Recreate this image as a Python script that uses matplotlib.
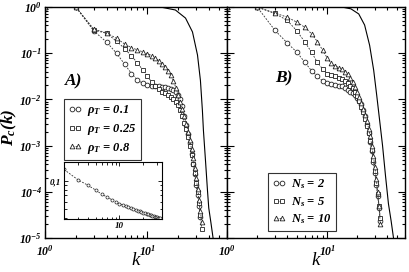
import numpy as np
import matplotlib
matplotlib.use("Agg")
import matplotlib.pyplot as plt
from matplotlib.ticker import LogLocator, FixedLocator, FixedFormatter, NullFormatter

plt.rcParams['font.family'] = 'Liberation Serif'
plt.rcParams['font.style'] = 'italic'
plt.rcParams['font.weight'] = 'bold'
plt.rcParams['mathtext.fontset'] = 'custom'
plt.rcParams['mathtext.rm'] = 'Liberation Serif:bold:italic'
plt.rcParams['mathtext.it'] = 'Liberation Serif:bold:italic'
plt.rcParams['mathtext.bf'] = 'Liberation Serif:bold:italic'

# ---------------- data (log10 of P_c(k)) ----------------
k_sim = list(range(1, 35))

# panel A
logP_rho01 = [0, 0, -0.52, -0.76, -1.0, -1.24, -1.44, -1.58, -1.65, -1.68, -1.70, -1.71,
              -1.72, -1.73, -1.74, -1.75, -1.77, -1.80, -1.84, -1.90, -2.00, -2.15, -2.35,
              -2.55, -2.75, -2.95, -3.18, -3.40, -3.62, -3.85, -4.08, -4.30, -4.55]
logP_rho025 = [0, 0, -0.50, -0.57, -0.74, -0.90, -1.06, -1.21, -1.36, -1.50, -1.62, -1.72,
               -1.78, -1.83, -1.87, -1.91, -1.95, -2.00, -2.06, -2.13, -2.22, -2.35, -2.50,
               -2.65, -2.82, -3.00, -3.20, -3.40, -3.60, -3.80, -4.00, -4.25, -4.50, -4.80]
logP_rho08 = [0, 0, -0.48, -0.56, -0.68, -0.80, -0.88, -0.93, -0.97, -1.01, -1.05, -1.10,
              -1.17, -1.23, -1.30, -1.38, -1.48, -1.60, -1.75, -1.90, -2.05, -2.20, -2.36,
              -2.53, -2.70, -2.88, -3.07, -3.27, -3.48, -3.70, -3.93, -4.17, -4.42, -4.65]

# panel B
logP_Ns2 = [0, 0, -0.50, -0.78, -0.98, -1.20, -1.38, -1.50, -1.60, -1.64, -1.66, -1.68,
            -1.70, -1.72, -1.75, -1.79, -1.83, -1.87, -1.91, -1.97, -2.03, -2.10, -2.22,
            -2.36, -2.55, -2.73, -2.92, -3.12, -3.35, -3.60, -3.85, -4.10, -4.35, -4.63]
logP_Ns5 = [0, 0, -0.14, -0.29, -0.52, -0.76, -0.98, -1.20, -1.34, -1.44, -1.48, -1.50,
            -1.53, -1.56, -1.60, -1.65, -1.70, -1.76, -1.83, -1.92, -2.04, -2.16, -2.28,
            -2.42, -2.57, -2.73, -2.90, -3.10, -3.32, -3.55, -3.80, -4.05, -4.30, -4.56]
logP_Ns10 = [0, 0, -0.13, -0.22, -0.33, -0.44, -0.58, -0.75, -0.93, -1.10, -1.22, -1.27,
             -1.31, -1.35, -1.40, -1.46, -1.53, -1.62, -1.73, -1.85, -1.95, -2.07, -2.20,
             -2.33, -2.47, -2.63, -2.80, -3.00, -3.22, -3.46, -3.72, -4.00, -4.30, -4.70]

# reference (solid) curves
k_ref_A = [1, 13.4, 18.8, 23.6, 27.6, 30.9, 33.0, 34.5, 35.3, 37.0, 38.7, 39.8, 41.8, 44.3]
logP_ref_A = [0, 0, -0.065, -0.24, -0.54, -1.04, -1.59, -2.24, -2.67, -3.33, -3.98, -4.35, -4.67, -5.07]
k_ref_B = [1, 14.0, 17.3, 20.7, 23.7, 26.6, 29.2, 31.3, 33.5, 35.8, 38.3, 41.0, 43.6, 46.2]
logP_ref_B = [0, 0, -0.04, -0.15, -0.39, -0.83, -1.37, -1.91, -2.46, -3.0, -3.65, -4.26, -4.63, -5.02]

# inset
k_inset = list(range(2, 34))
v_inset = [0.133, 0.103, 0.090, 0.080, 0.072, 0.067, 0.063, 0.060, 0.057, 0.055, 0.054,
           0.052, 0.051, 0.050, 0.049, 0.048, 0.047, 0.046, 0.045, 0.045, 0.044, 0.044,
           0.043, 0.043, 0.042, 0.042, 0.041, 0.041, 0.041, 0.040, 0.040, 0.040]

labels_A = [r'$\rho_T$ = 0.1', r'$\rho_T$ = 0.25', r'$\rho_T$ = 0.8']
labels_B = [r'$N_s$ = 2', r'$N_s$ = 5', r'$N_s$ = 10']
markers = ['o', 's', '^']

W, H = 409, 272
fig = plt.figure(figsize=(W / 100, H / 100), dpi=100)
axA = fig.add_axes([45 / W, 34 / H, 182 / W, 231 / H])
axB = fig.add_axes([227 / W, 34 / H, 178 / W, 231 / H])

dash = (0, (2.2, 1.6))


def style_axes(ax, ylabels):
    ax.set_xscale('log')
    ax.set_yscale('log')
    ax.set_xlim(1, 60)
    ax.set_ylim(1e-5, 1)
    ax.xaxis.set_major_locator(FixedLocator([1, 10]))
    ax.xaxis.set_major_formatter(FixedFormatter([r'$10^{0}$', r'$10^{1}$']))
    ax.xaxis.set_minor_locator(LogLocator(base=10, subs=np.arange(2, 10), numticks=20))
    ax.xaxis.set_minor_formatter(NullFormatter())
    ax.yaxis.set_major_locator(FixedLocator([1e-5, 1e-4, 1e-3, 1e-2, 1e-1, 1]))
    ax.yaxis.set_minor_locator(LogLocator(base=10, subs=np.arange(2, 10), numticks=20))
    ax.yaxis.set_minor_formatter(NullFormatter())
    if ylabels:
        ax.yaxis.set_major_formatter(FixedFormatter(
            [r'$10^{-5}$', r'$10^{-4}$', r'$10^{-3}$', r'$10^{-2}$', r'$10^{-1}$', r'$10^{0}$']))
    else:
        ax.yaxis.set_major_formatter(NullFormatter())
    ax.tick_params(which='both', direction='in', top=True, right=True, labelsize=8.5, width=0.8)
    ax.tick_params(which='major', length=5)
    ax.tick_params(axis='x', which='major', pad=4)
    ax.tick_params(axis='y', which='major', pad=2)
    ax.tick_params(which='minor', length=2.5)
    for s in ax.spines.values():
        s.set_linewidth(1.0)
    ax.set_xlabel('k', fontsize=13.5)
    ax.xaxis.set_label_coords(0.5, -0.062)


def plot_series(ax, series, labels):
    handles = []
    for lp, m, lab in zip(series, markers, labels):
        kk = k_sim[:len(lp)]
        h, = ax.plot(kk, np.power(10.0, lp), linestyle=dash, color='#333333', lw=0.6,
                     marker=m, ms=3.4, mfc='white', mec='#222222', mew=0.6, label=lab)
        handles.append(h)
    return handles


style_axes(axA, True)
style_axes(axB, False)

axA.plot(k_ref_A, np.power(10.0, logP_ref_A), color='k', lw=0.8)
axB.plot(k_ref_B, np.power(10.0, logP_ref_B), color='k', lw=0.8)

hA = plot_series(axA, [logP_rho01, logP_rho025, logP_rho08], labels_A)
hB = plot_series(axB, [logP_Ns2, logP_Ns5, logP_Ns10], labels_B)

legkw = dict(numpoints=2, handlelength=1.1, handletextpad=0.4, labelspacing=0.3,
             fancybox=False, framealpha=1, edgecolor='#333333', borderpad=0.35,
             borderaxespad=0, prop={'family': 'Liberation Serif', 'style': 'italic',
                                    'weight': 'bold', 'size': 9})
legA = axA.legend(handles=hA, loc='upper left', bbox_to_anchor=(0.104, 0.602), **legkw)
legA.get_frame().set_linewidth(0.8)
legB = axB.legend(handles=hB, loc='upper left', bbox_to_anchor=(0.23, 0.281), **legkw)
legB.get_frame().set_linewidth(0.8)

axA.text(0.11, 0.68, 'A)', transform=axA.transAxes, fontsize=12.5, va='center', ha='left')
axB.text(0.27, 0.69, 'B)', transform=axB.transAxes, fontsize=12.5, va='center', ha='left')

axA.set_ylabel(r'$P_c(k)$', fontsize=12.5)
axA.yaxis.label.set_verticalalignment('center')
axA.yaxis.set_label_coords(-0.195, 0.48)

# inset
axI = fig.add_axes([64 / W, (H - 219) / H, 98 / W, 57 / H])
axI.set_xscale('log')
axI.set_yscale('log')
axI.set_xlim(2, 34.5)
axI.set_ylim(0.039, 0.16)
axI.plot(k_inset, v_inset, linestyle=dash, color='#333333', lw=0.6, marker='o', ms=2.2,
         mfc='white', mec='#222222', mew=0.5)
axI.xaxis.set_major_locator(FixedLocator([10]))
axI.xaxis.set_major_formatter(FixedFormatter(['10']))
axI.xaxis.set_minor_locator(FixedLocator([2, 3, 4, 5, 6, 7, 8, 9, 20, 30]))
axI.xaxis.set_minor_formatter(NullFormatter())
axI.yaxis.set_major_locator(FixedLocator([0.1]))
axI.yaxis.set_major_formatter(FixedFormatter(['0,1']))
axI.yaxis.set_minor_locator(FixedLocator([0.04, 0.05, 0.06, 0.07, 0.08, 0.09]))
axI.yaxis.set_minor_formatter(NullFormatter())
axI.tick_params(which='both', direction='in', top=True, right=True, labelsize=6.5, width=0.6)
axI.tick_params(which='major', length=3, pad=2)
axI.tick_params(which='minor', length=1.8)
for s in axI.spines.values():
    s.set_linewidth(0.8)

fig.savefig('out.png', dpi=100)
